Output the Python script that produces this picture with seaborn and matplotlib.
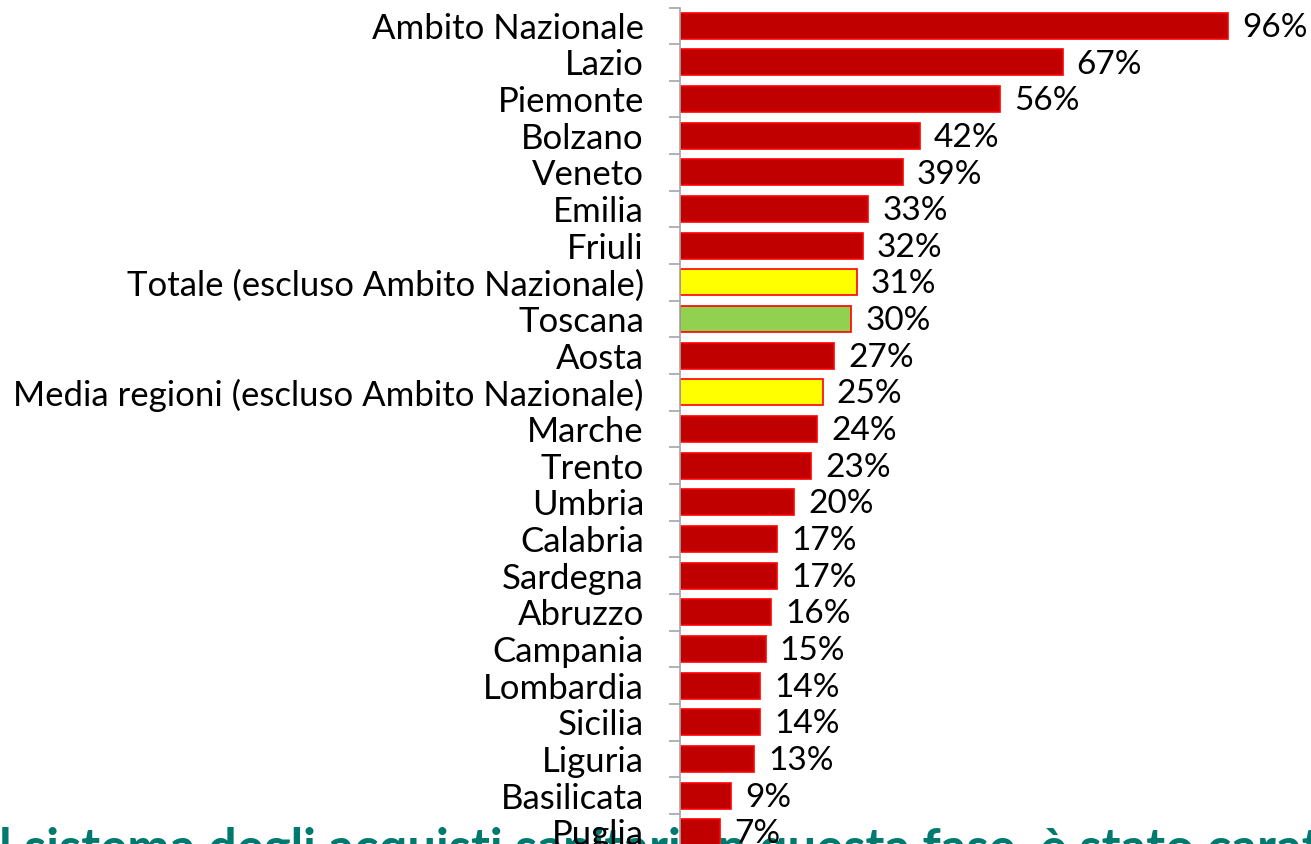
import numpy as np
import pandas as pd
import matplotlib
matplotlib.use("Agg")
import matplotlib.pyplot as plt
import seaborn as sns

# data
regions = [
    "Ambito Nazionale", "Lazio", "Piemonte", "Bolzano", "Veneto", "Emilia", "Friuli",
    "Totale (escluso Ambito Nazionale)", "Toscana", "Aosta",
    "Media regioni (escluso Ambito Nazionale)", "Marche", "Trento", "Umbria",
    "Calabria", "Sardegna", "Abruzzo", "Campania", "Lombardia", "Sicilia",
    "Liguria", "Basilicata", "Puglia",
]
values = [96, 67, 56, 42, 39, 33, 32, 31, 30, 27, 25, 24, 23, 20,
          17, 17, 16, 15, 14, 14, 13, 9, 7]
totals = ["Totale (escluso Ambito Nazionale)", "Media regioni (escluso Ambito Nazionale)"]
focus = ["Toscana"]
caption = "Il sistema degli acquisti sanitari, in questa fase, è stato caratterizzato"

RED, YELLOW, GREEN = "#C00000", "#FFFF00", "#92D050"

df = pd.DataFrame({"region": regions, "value": values})
palette = {r: (YELLOW if r in totals else GREEN if r in focus else RED) for r in regions}

sns.set_theme(style="white")
plt.rcParams["font.family"] = ["Lato", "DejaVu Sans"]

W, H = 1311, 844
fig = plt.figure(figsize=(W / 100, H / 100), dpi=100)
ax = fig.add_axes([680 / W, -6.5 / H, 631 / W, 843 / H])
ax.set_zorder(1)
ax.patch.set_alpha(0)

sns.barplot(data=df, x="value", y="region", hue="region", palette=palette,
            orient="h", width=0.71, edgecolor="#FF0000", linewidth=1.2,
            saturation=1, legend=False, ax=ax)

for c in ax.containers:
    for t in ax.bar_label(c, fmt="%d%%", padding=10, fontsize=24, color="black"):
        t.xyann = (t.xyann[0], -1.5)

ax.set_xlim(0, 631 / 5.71)
ax.set_ylim(len(regions) - 0.5, -0.5)
ax.set_xlabel("")
ax.set_ylabel("")
ax.xaxis.set_visible(False)
for s in ["top", "right", "bottom"]:
    ax.spines[s].set_visible(False)
ax.spines["left"].set_color("#A6A6A6")
ax.spines["left"].set_linewidth(1.2)

ax.set_yticks(np.arange(-0.5, len(regions), 1), minor=True)
ax.tick_params(axis="y", which="minor", left=True, length=8, width=1.2, color="#A6A6A6")
ax.tick_params(axis="y", which="major", length=0, pad=26, labelsize=25, labelcolor="black")

# caption partly hidden at the bottom edge, drawn behind the bars
fig.text(-16 / W, -21 / H, caption, fontsize=36.5, fontweight="bold", color="#00796E",
         ha="left", va="baseline", zorder=0)

fig.savefig("out.png", dpi=100)
